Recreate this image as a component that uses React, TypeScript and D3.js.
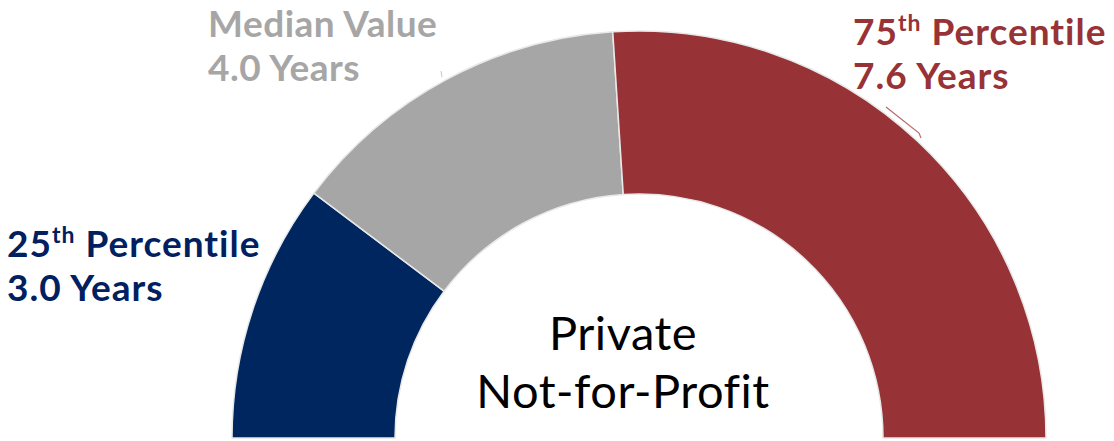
import React from "react";
import * as d3 from "d3";

const categories = ["25th Percentile", "Median Value", "75th Percentile"];
const values = [3.0, 4.0, 7.6];
const colors = ["#002660", "#A6A6A6", "#973336"];
const labelColors = ["#002060", "#A6A6A6", "#973336"];
const centerLines = ["Private", "Not-for-Profit"];

const W = 1114, H = 441;
const cx = 639, cy = 438;
const rOuter = 407, rInner = 244;

export default function App() {
  const pie = d3.pie<number>().sort(null).startAngle(-Math.PI / 2).endAngle(Math.PI / 2);
  const arcs = pie(values);
  const arc = d3.arc<d3.PieArcDatum<number>>().innerRadius(rInner).outerRadius(rOuter);
  const font = "Lato, 'Open Sans', sans-serif";
  const fs = 37;
  const labelPos = [
    { x: 7, y: 257 },
    { x: 208, y: 37 },
    { x: 853, y: 45 },
  ];
  const renderTitle = (cat: string) => {
    const m = cat.match(/^(\d+)(th)(.*)$/);
    if (m) {
      return (
        <>
          {m[1]}
          <tspan fontSize={fs * 0.62} dy={-fs * 0.38}>{m[2]}</tspan>
          <tspan dy={fs * 0.38}>{m[3]}</tspan>
        </>
      );
    }
    return cat;
  };
  return (
    <svg width={W} height={H} style={{ position: "absolute", left: 0, top: 0, background: "#fff" }}>
      <g transform={`translate(${cx},${cy})`}>
        {arcs.map((a, i) => (
          <path key={i} d={arc(a) || ""} fill={colors[i]} stroke="#e8e8e8" strokeWidth={1.5} />
        ))}
      </g>
      {/* small leader marks */}
      <polyline points="886,107 919,133 921,138" fill="none" stroke="#b86a6c" strokeWidth={1.2} />
      <line x1={441} y1={71} x2={442} y2={77} stroke="#c8c8c8" strokeWidth={1} />
      {categories.map((c, i) => (
        <text key={c} x={labelPos[i].x} y={labelPos[i].y} fill={labelColors[i]} fontFamily={font} fontWeight={700} fontSize={fs} letterSpacing={i === 1 ? 0.5 : 1}>
          {renderTitle(c)}
          <tspan x={labelPos[i].x} dy={44}>{`${values[i].toFixed(1)} Years`}</tspan>
        </text>
      ))}
      {centerLines.map((t, i) => (
        <text key={t} x={623} y={350 + i * 58} textAnchor="middle" fill="#000" fontFamily={font} fontSize={47} letterSpacing={0.5}>
          {t}
        </text>
      ))}
    </svg>
  );
}
